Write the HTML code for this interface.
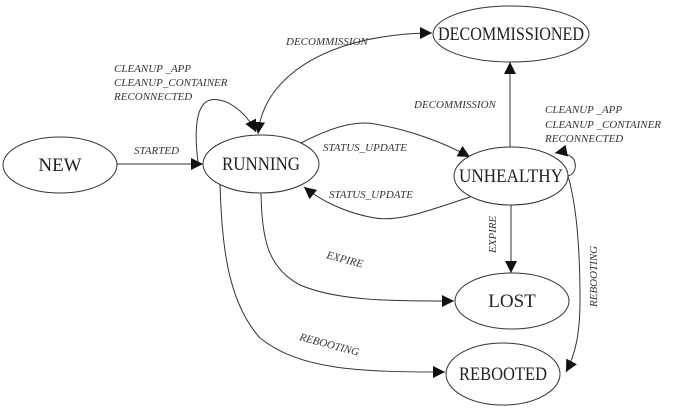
<!DOCTYPE html>
<html><head><meta charset="utf-8"><style>
html,body{margin:0;padding:0;background:#fff;}
svg{display:block;}
.st{font-family:"Liberation Serif",serif;font-size:19px;fill:#222;}
.lb{font-family:"Liberation Serif",serif;font-size:11px;font-style:italic;fill:#333;}
ellipse{fill:#fff;stroke:#333;stroke-width:1;}
path.e{fill:none;stroke:#333;stroke-width:1;}
</style></head><body>
<svg width="674" height="418" viewBox="0 0 674 418" xmlns="http://www.w3.org/2000/svg">
<defs>
<marker id="ah" viewBox="0 0 10 10" refX="10" refY="5" markerWidth="12" markerHeight="12" markerUnits="userSpaceOnUse" orient="auto-start-reverse"><path d="M0,0 L10,5 L0,10 z" fill="#111"/></marker>
</defs>
<g>
<path class="e" d="M117,164 L203,164" marker-end="url(#ah)"/>
<path class="e" d="M258,134 C262,90 300,55 366,40 C395,34 415,33 432,33" marker-start="url(#ah)" marker-end="url(#ah)"/>
<path class="e" d="M198,162 C194,130 196,104 210,100 C225,97 245,110 256,132" marker-end="url(#ah)"/>
<path class="e" d="M301,143 C330,128 355,120 375,124 C410,130 445,143 470,157" marker-end="url(#ah)"/>
<path class="e" d="M470,197 C430,210 400,222 375,218 C345,213 320,200 304,187" marker-end="url(#ah)"/>
<path class="e" d="M510,147 L510,62" marker-end="url(#ah)"/>
<path class="e" d="M511,204 L511,273" marker-end="url(#ah)"/>
<path class="e" d="M261,193 C262,240 268,268 300,285 C340,302 400,301 454,301" marker-end="url(#ah)"/>
<path class="e" d="M220,185 C222,240 226,300 260,338 C300,370 360,372 445,372" marker-end="url(#ah)"/>
<path class="e" d="M567,176 C577,175 578,160 570,156 C565,153 560,152 555,153" marker-end="url(#ah)"/>
<path class="e" d="M568,176 C578,210 580,260 580,300 C580,335 575,355 566,372" marker-end="url(#ah)"/>
</g>
<g>
<ellipse cx="60" cy="165" rx="57" ry="28"/>
<text class="st" x="60" y="171" text-anchor="middle">NEW</text>
<ellipse cx="261" cy="164" rx="58" ry="29"/>
<text class="st" x="261" y="170" text-anchor="middle" textLength="78" lengthAdjust="spacingAndGlyphs">RUNNING</text>
<ellipse cx="511" cy="34" rx="78" ry="28"/>
<text class="st" x="511" y="40" text-anchor="middle" textLength="146" lengthAdjust="spacingAndGlyphs">DECOMMISSIONED</text>
<ellipse cx="511" cy="176" rx="57" ry="29"/>
<text class="st" x="511" y="182" text-anchor="middle" textLength="104" lengthAdjust="spacingAndGlyphs">UNHEALTHY</text>
<ellipse cx="512" cy="301" rx="57" ry="28"/>
<text class="st" x="512" y="307" text-anchor="middle">LOST</text>
<ellipse cx="503" cy="374" rx="57" ry="31"/>
<text class="st" x="503" y="380" text-anchor="middle" textLength="88" lengthAdjust="spacingAndGlyphs">REBOOTED</text>
</g>
<g>
<text class="lb" x="134" y="154">STARTED</text>
<text class="lb" x="286" y="45">DECOMMISSION</text>
<text class="lb" x="114" y="72">CLEANUP _APP</text>
<text class="lb" x="114" y="86">CLEANUP_CONTAINER</text>
<text class="lb" x="114" y="100">RECONNECTED</text>
<text class="lb" x="323" y="151">STATUS_UPDATE</text>
<text class="lb" x="329" y="198">STATUS_UPDATE</text>
<text class="lb" x="414" y="108">DECOMMISSION</text>
<text class="lb" x="545" y="113">CLEANUP _APP</text>
<text class="lb" x="545" y="128">CLEANUP _CONTAINER</text>
<text class="lb" x="545" y="142">RECONNECTED</text>
<text class="lb" transform="translate(496,253) rotate(-90)">EXPIRE</text>
<text class="lb" transform="translate(326,258) rotate(15)">EXPIRE</text>
<text class="lb" transform="translate(299,340) rotate(15)">REBOOTING</text>
<text class="lb" transform="translate(597,307) rotate(-90)">REBOOTING</text>
</g>
</svg>
</body></html>
